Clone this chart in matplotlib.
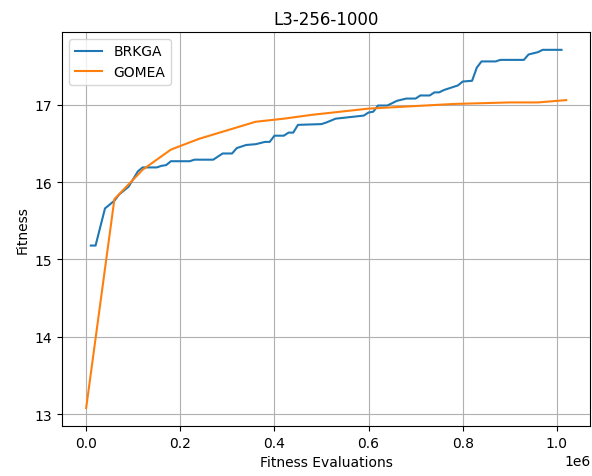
import matplotlib
matplotlib.use('Agg')
import matplotlib.pyplot as plt

# evaluations (x1e6) and best fitness
brkga_evals = [0.01, 0.02, 0.04, 0.06, 0.07, 0.09, 0.11, 0.12, 0.15, 0.16,
               0.17, 0.18, 0.22, 0.23, 0.27, 0.29, 0.31, 0.32, 0.34, 0.36,
               0.38, 0.39, 0.40, 0.42, 0.43, 0.44, 0.45, 0.50, 0.51, 0.53,
               0.56, 0.59, 0.60, 0.61, 0.62, 0.64, 0.66, 0.68, 0.70, 0.71,
               0.73, 0.74, 0.75, 0.76, 0.77, 0.79, 0.80, 0.82, 0.83, 0.84,
               0.87, 0.88, 0.93, 0.94, 0.96, 0.97, 1.01]
brkga_fitness = [15.18, 15.18, 15.66, 15.76, 15.84, 15.94, 16.14, 16.19, 16.19, 16.21,
                 16.22, 16.27, 16.27, 16.29, 16.29, 16.37, 16.37, 16.44, 16.48, 16.49,
                 16.52, 16.52, 16.60, 16.60, 16.64, 16.64, 16.74, 16.75, 16.77, 16.82,
                 16.84, 16.86, 16.90, 16.91, 16.99, 16.99, 17.05, 17.08, 17.08, 17.12,
                 17.12, 17.16, 17.16, 17.19, 17.21, 17.25, 17.30, 17.31, 17.48, 17.56,
                 17.56, 17.58, 17.58, 17.65, 17.68, 17.71, 17.71]

gomea_evals = [0.0, 0.06, 0.09, 0.12, 0.18, 0.24, 0.30, 0.36, 0.42, 0.48,
               0.54, 0.60, 0.66, 0.72, 0.78, 0.84, 0.90, 0.96, 1.02]
gomea_fitness = [13.08, 15.78, 15.97, 16.16, 16.42, 16.56, 16.67, 16.78, 16.82, 16.87,
                 16.91, 16.95, 16.97, 16.99, 17.01, 17.02, 17.03, 17.03, 17.06]

fig, ax = plt.subplots(figsize=(5.92, 4.77), dpi=100)
fig.subplots_adjust(left=0.105, right=0.997, top=0.931, bottom=0.105)

ax.plot([e * 1e6 for e in brkga_evals], brkga_fitness, label='BRKGA')
ax.plot([e * 1e6 for e in gomea_evals], gomea_fitness, label='GOMEA')

ax.set_title('L3-256-1000')
ax.set_xlabel('Fitness Evaluations')
ax.set_ylabel('Fitness')
ax.grid(True)
ax.legend(loc='upper left')

plt.savefig('out.png')
